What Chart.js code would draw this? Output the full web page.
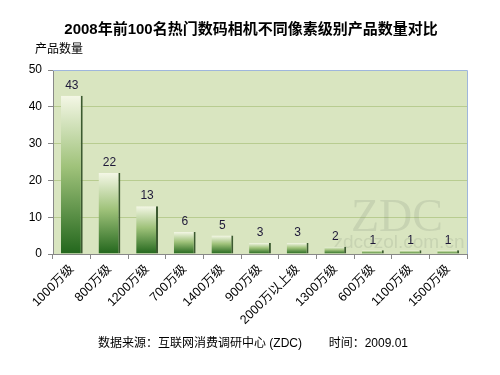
<!DOCTYPE html>
<html><head><meta charset="utf-8">
<script src="https://cdn.jsdelivr.net/npm/chart.js@4/dist/chart.umd.min.js"></script>
<style>html,body{margin:0;padding:0;background:#fff}#wrap{width:500px;height:375px}</style>
</head><body><div id="wrap"><canvas id="c" width="500" height="375"></canvas></div>
<script>
const categories = ['1000万级','800万级','1200万级','700万级','1400万级','900万级','2000万以上级','1300万级','600万级','1100万级','1500万级'];
const counts = [43,22,13,6,5,3,3,2,1,1,1];
const yTicks = [0,10,20,30,40,50];
const titleText = '2008年前100名热门数码相机不同像素级别产品数量对比';
const yTitleText = '产品数量';
const footerText = '数据来源：互联网消费调研中心 (ZDC)        时间：2009.01';

const FONT = '"Liberation Sans", "Noto Sans CJK SC", sans-serif';

const decor = {
  id:'decor',
  beforeDraw(chart){
    const {ctx, chartArea:a} = chart;
    ctx.save();
    ctx.fillStyle = '#d9e5c0';
    ctx.fillRect(a.left, a.top, a.right-a.left, a.bottom-a.top);
    ctx.restore();
  },
  beforeDatasetsDraw(chart){
    const {ctx, chartArea:a} = chart;
    ctx.save();
    ctx.globalAlpha = 0.14;
    ctx.fillStyle = '#5a6a5a';
    ctx.font = '46px "Liberation Serif", serif';
    ctx.textAlign = 'center'; ctx.textBaseline = 'alphabetic';
    ctx.fillText('ZDC', 397, 231);
    ctx.font = '19px "Liberation Sans", sans-serif';
    ctx.fillText('zdcozol.com.cn', 399, 248);
    ctx.restore();
  },
  afterDraw(chart){
    const {ctx, chartArea:a} = chart;
    ctx.save();
    ctx.strokeStyle = '#9fb6dc';
    ctx.lineWidth = 1;
    ctx.beginPath();
    ctx.moveTo(a.left, a.top+0.5); ctx.lineTo(a.right+0.5, a.top+0.5); ctx.lineTo(a.right+0.5, a.bottom);
    ctx.stroke();
    const meta = chart.getDatasetMeta(0);
    ctx.fillStyle = '#1e1838';
    ctx.font = '12px ' + FONT;
    ctx.textAlign = 'center'; ctx.textBaseline = 'bottom';
    meta.data.forEach((bar,i)=>{
      ctx.fillText(String(counts[i]), bar.x, bar.y - 4);
    });
    ctx.fillStyle = '#000';
    ctx.font = 'bold 15px ' + FONT;
    ctx.textBaseline = 'middle';
    ctx.fillText(titleText, 251, 30);
    ctx.font = '12px ' + FONT;
    ctx.textAlign = 'left';
    ctx.fillText(yTitleText, 35, 50);
    ctx.textAlign = 'center';
    ctx.fillText(footerText, 253, 344);
    ctx.restore();
  }
};

function barFill(context){
  const chart = context.chart;
  const a = chart.chartArea;
  if(!a) return '#5a9040';
  const y = chart.scales.y;
  const top = y.getPixelForValue(counts[context.dataIndex]);
  const bottom = y.getPixelForValue(0);
  const g = chart.ctx.createLinearGradient(0, top, 0, bottom);
  g.addColorStop(0, '#f4f7e6');
  g.addColorStop(0.45, '#9fc27a');
  g.addColorStop(1, '#22661c');
  return g;
}

new Chart(document.getElementById('c'), {
  type:'bar',
  data:{ labels: categories, datasets:[{ data: counts, backgroundColor: barFill, borderColor:'#3c5a30', borderWidth:{left:0,top:0,bottom:0,right:2}, barPercentage:0.58, categoryPercentage:1 }]},
  options:{
    responsive:false, animation:false, devicePixelRatio:1,
    layout:{ padding:{ top:70, left:0, right:33, bottom:0 } },
    plugins:{ legend:{display:false}, title:{display:false}, tooltip:{enabled:false} },
    scales:{
      x:{
        offset:true,
        grid:{ display:true, drawOnChartArea:false, offset:true, tickLength:5, color:'#888' },
        border:{ color:'#888' },
        ticks:{ minRotation:45, maxRotation:45, autoSkip:false, color:'#000', font:{ size:12.5, family:FONT }, padding:3 },
        afterFit(s){ s.height = 121; }
      },
      y:{
        min:0, max:50,
        afterBuildTicks(s){ s.ticks = yTicks.map(v=>({value:v})); },
        grid:{ color:(c)=> c.tick && c.tick.value===0 ? 'rgba(0,0,0,0)' : '#b8cc90', tickLength:5, tickColor:'#888', drawTicks:true },
        border:{ color:'#888' },
        ticks:{ color:'#000', font:{ size:12, family:FONT }, padding:6 },
        afterFit(s){ s.width = 53; }
      }
    }
  },
  plugins:[decor]
});
</script></body></html>
